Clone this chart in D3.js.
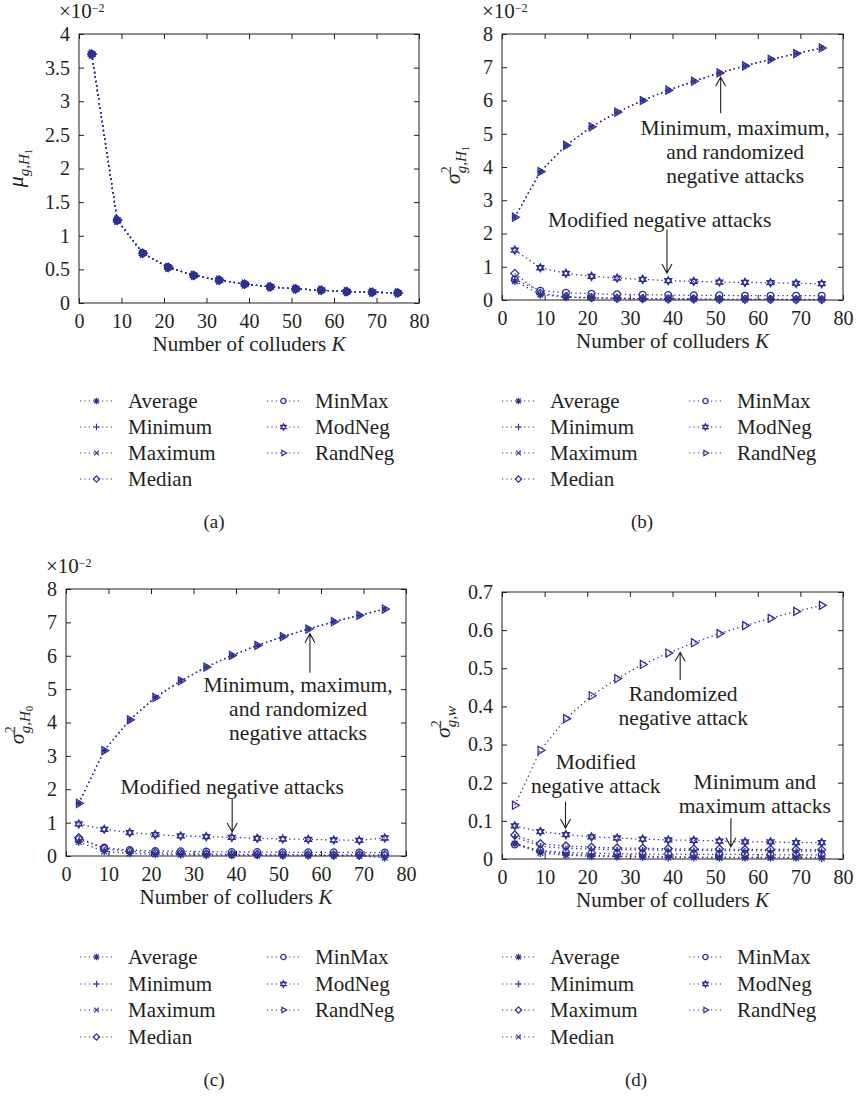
<!DOCTYPE html>
<html>
<head>
<meta charset="utf-8">
<script src="https://cdn.jsdelivr.net/npm/d3@7"></script>
<style>
  body { margin: 0; background: #fff; }
  svg { display: block; }
  text { font-family: "Liberation Serif", "Times New Roman", serif; fill: #231f20; }
</style>
</head>
<body>
<svg id="fig" width="856" height="1098"></svg>
<script>
// Number of colluders K
const K = [3, 9, 15, 21, 27, 33, 39, 45, 51, 57, 63, 69, 75];
const xTicks = [0, 10, 20, 30, 40, 50, 60, 70, 80];

// (a) mean of g under H1, in units of 1e-2 (all attacks coincide)
const aAverage = [3.70, 1.23, 0.74, 0.53, 0.41, 0.34, 0.28, 0.24, 0.21, 0.19, 0.17, 0.16, 0.15];
const aMinimum = [3.70, 1.23, 0.74, 0.53, 0.41, 0.34, 0.28, 0.24, 0.21, 0.19, 0.17, 0.16, 0.15];
const aMaximum = [3.70, 1.23, 0.74, 0.53, 0.41, 0.34, 0.28, 0.24, 0.21, 0.19, 0.17, 0.16, 0.15];
const aMedian  = [3.70, 1.23, 0.74, 0.53, 0.41, 0.34, 0.28, 0.24, 0.21, 0.19, 0.17, 0.16, 0.15];
const aMinMax  = [3.70, 1.23, 0.74, 0.53, 0.41, 0.34, 0.28, 0.24, 0.21, 0.19, 0.17, 0.16, 0.15];
const aModNeg  = [3.70, 1.23, 0.74, 0.53, 0.41, 0.34, 0.28, 0.24, 0.21, 0.19, 0.17, 0.16, 0.15];
const aRandNeg = [3.70, 1.23, 0.74, 0.53, 0.41, 0.34, 0.28, 0.24, 0.21, 0.19, 0.17, 0.16, 0.15];
const aYTicks = [0, 0.5, 1, 1.5, 2, 2.5, 3, 3.5, 4];
const aYTickLabels = ["0", "0.5", "1", "1.5", "2", "2.5", "3", "3.5", "4"];

// (b) variance of g under H1, in units of 1e-2
const bAverage = [0.57, 0.16, 0.09, 0.06, 0.05, 0.04, 0.03, 0.03, 0.02, 0.02, 0.02, 0.02, 0.02];
const bMinimum = [2.49, 3.86, 4.65, 5.21, 5.65, 6.00, 6.31, 6.58, 6.83, 7.04, 7.24, 7.41, 7.58];
const bMaximum = [2.49, 3.86, 4.65, 5.21, 5.65, 6.00, 6.31, 6.58, 6.83, 7.04, 7.24, 7.41, 7.58];
const bMedian  = [0.80, 0.20, 0.10, 0.07, 0.05, 0.04, 0.03, 0.03, 0.02, 0.02, 0.02, 0.01, 0.01];
const bMinMax  = [0.62, 0.28, 0.22, 0.19, 0.17, 0.16, 0.15, 0.14, 0.14, 0.13, 0.13, 0.13, 0.13];
const bModNeg  = [1.50, 0.97, 0.80, 0.71, 0.66, 0.62, 0.58, 0.56, 0.54, 0.53, 0.52, 0.50, 0.49];
const bRandNeg = [2.49, 3.86, 4.65, 5.21, 5.65, 6.00, 6.31, 6.58, 6.83, 7.04, 7.24, 7.41, 7.58];
const bYTicks = [0, 1, 2, 3, 4, 5, 6, 7, 8];
const bYTickLabels = ["0", "1", "2", "3", "4", "5", "6", "7", "8"];

// (c) variance of g under H0, in units of 1e-2
const cAverage = [0.42, 0.14, 0.08, 0.05, 0.04, 0.03, 0.02, 0.02, 0.01, 0.01, 0.01, 0.00, -0.05];
const cMinimum = [1.58, 3.16, 4.08, 4.75, 5.25, 5.66, 6.01, 6.31, 6.57, 6.80, 7.02, 7.21, 7.40];
const cMaximum = [1.58, 3.16, 4.08, 4.75, 5.25, 5.66, 6.01, 6.31, 6.57, 6.80, 7.02, 7.21, 7.40];
const cMedian  = [0.55, 0.22, 0.14, 0.10, 0.08, 0.06, 0.05, 0.05, 0.04, 0.04, 0.03, 0.03, 0.03];
const cMinMax  = [0.50, 0.25, 0.18, 0.15, 0.14, 0.13, 0.12, 0.12, 0.11, 0.11, 0.11, 0.10, 0.10];
const cModNeg  = [0.96, 0.80, 0.70, 0.64, 0.60, 0.58, 0.56, 0.53, 0.51, 0.50, 0.48, 0.47, 0.54];
const cRandNeg = [1.58, 3.16, 4.08, 4.75, 5.25, 5.66, 6.01, 6.31, 6.57, 6.80, 7.02, 7.21, 7.40];
const cYTicks = [0, 1, 2, 3, 4, 5, 6, 7, 8];
const cYTickLabels = ["0", "1", "2", "3", "4", "5", "6", "7", "8"];

// (d) variance of the watermark-related term w
const dAverage = [0.040, 0.016, 0.010, 0.007, 0.006, 0.005, 0.004, 0.004, 0.003, 0.003, 0.003, 0.003, 0.002];
const dMinimum = [0.058, 0.033, 0.028, 0.026, 0.025, 0.024, 0.023, 0.023, 0.022, 0.022, 0.022, 0.021, 0.021];
const dMaximum = [0.063, 0.040, 0.034, 0.031, 0.029, 0.028, 0.027, 0.026, 0.026, 0.025, 0.025, 0.025, 0.024];
const dMedian  = [0.042, 0.020, 0.013, 0.010, 0.008, 0.007, 0.006, 0.005, 0.005, 0.004, 0.004, 0.004, 0.004];
const dMinMax  = [0.038, 0.022, 0.017, 0.015, 0.014, 0.013, 0.013, 0.012, 0.012, 0.012, 0.011, 0.011, 0.011];
const dModNeg  = [0.087, 0.072, 0.064, 0.058, 0.055, 0.052, 0.050, 0.049, 0.047, 0.045, 0.045, 0.043, 0.043];
const dRandNeg = [0.141, 0.285, 0.368, 0.428, 0.473, 0.510, 0.540, 0.567, 0.591, 0.612, 0.631, 0.649, 0.665];
const dYTicks = [0, 0.1, 0.2, 0.3, 0.4, 0.5, 0.6, 0.7];
const dYTickLabels = ["0", "0.1", "0.2", "0.3", "0.4", "0.5", "0.6", "0.7"];

const seriesNames = ["Average", "Minimum", "Maximum", "Median", "MinMax", "ModNeg", "RandNeg"];
const markersABC = ["asterisk", "plus", "cross", "diamond", "circle", "hexagram", "triangle"];
const markersD   = ["asterisk", "plus", "diamond", "cross", "circle", "hexagram", "triangle"];

const BLUE = "#2e3192";
const INK = "#231f20";
const svg = d3.select("#fig");

function markerPath(type, r) {
  const s = r * 0.72, h = r * 0.866;
  switch (type) {
    case "asterisk": return `M${-r},0H${r}M0,${-r}V${r}M${-s},${-s}L${s},${s}M${-s},${s}L${s},${-s}`;
    case "plus": return `M${-r},0H${r}M0,${-r}V${r}`;
    case "cross": return `M${-s},${-s}L${s},${s}M${-s},${s}L${s},${-s}`;
    case "diamond": return `M0,${-r}L${r},0L0,${r}L${-r},0Z`;
    case "circle": { const c = r * 0.85; return `M${c},0A${c},${c} 0 1,1 ${-c},0A${c},${c} 0 1,1 ${c},0Z`; }
    case "hexagram": return `M0,${-r}L${h},${r / 2}L${-h},${r / 2}ZM0,${r}L${h},${-r / 2}L${-h},${-r / 2}Z`;
    case "triangle": return `M${r},0L${-r / 2},${-h}L${-r / 2},${h}Z`;
  }
}

// marker radius used inside the plot area
function plotRadius(type) {
  if (type === "triangle") return 4.6;
  if (type === "plus" || type === "cross") return 2.8;
  return 4;
}

function yLabel(g, cx, cy, sym, sub, subsub, squared) {
  const t = g.append("text")
    .attr("transform", `translate(${cx},${cy}) rotate(-90)`)
    .attr("text-anchor", "middle")
    .style("font-size", "22px");
  t.append("tspan").attr("font-style", "italic").text(sym);
  if (squared) {
    t.append("tspan").attr("font-size", 14).attr("dy", -9).text("2");
    t.append("tspan").attr("font-size", 15).attr("font-style", "italic").attr("dx", -7).attr("dy", 15).text(sub);
  } else {
    t.append("tspan").attr("font-size", 15).attr("font-style", "italic").attr("dy", 6).text(sub);
  }
  if (subsub) t.append("tspan").attr("font-size", 11).attr("dy", 3).text(subsub);
}

function drawPanel(p) {
  const [x0, y0, x1, y1] = p.box;
  const x = d3.scaleLinear().domain([0, 80]).range([x0, x1]);
  const y = d3.scaleLinear().domain([0, p.yMax]).range([y1, y0]);
  const g = svg.append("g");
  const tl = 5;

  const styleAxis = sel => {
    sel.select(".domain").remove();
    sel.selectAll(".tick line").attr("stroke", INK).attr("stroke-width", 1);
    sel.selectAll("text").attr("fill", INK).style("font-size", "20px")
      .style("font-family", '"Liberation Serif", "Times New Roman", serif');
  };

  g.append("g").attr("transform", `translate(${x0},0)`)
    .call(d3.axisLeft(y).tickValues(p.yTicks).tickFormat((d, i) => p.yTickLabels[i])
      .tickSizeInner(-tl).tickSizeOuter(0).tickPadding(9)).call(styleAxis);
  g.append("g").attr("transform", `translate(${x1},0)`)
    .call(d3.axisRight(y).tickValues(p.yTicks).tickFormat("").tickSizeInner(-tl).tickSizeOuter(0)).call(styleAxis);
  g.append("g").attr("transform", `translate(0,${y1})`)
    .call(d3.axisBottom(x).tickValues(xTicks).tickFormat(d3.format("d"))
      .tickSizeInner(-tl).tickSizeOuter(0).tickPadding(11)).call(styleAxis);
  g.append("g").attr("transform", `translate(0,${y0})`)
    .call(d3.axisTop(x).tickValues(xTicks).tickFormat("").tickSizeInner(-tl).tickSizeOuter(0)).call(styleAxis);

  g.append("rect").attr("x", x0).attr("y", y0).attr("width", x1 - x0).attr("height", y1 - y0)
    .attr("fill", "none").attr("stroke", INK).attr("stroke-width", 1);

  // series: dotted lines then markers
  const line = d3.line().x((d, i) => x(K[i])).y(d => y(d));
  p.series.forEach(vals => {
    g.append("path").attr("d", line(vals)).attr("fill", "none").attr("stroke", BLUE)
      .attr("stroke-width", 1.3).attr("stroke-dasharray", "1.3,3.2");
  });
  p.series.forEach((vals, si) => {
    const m = p.markers[si];
    g.append("g").selectAll("path").data(vals).join("path")
      .attr("transform", (d, i) => `translate(${x(K[i])},${y(d)})`)
      .attr("d", markerPath(m, plotRadius(m)))
      .attr("fill", "none").attr("stroke", BLUE).attr("stroke-width", 1.3);
  });

  // x axis title
  const xt = g.append("text").attr("x", (x0 + x1) / 2).attr("y", y1 + 48)
    .attr("text-anchor", "middle").style("font-size", "21px");
  xt.append("tspan").text("Number of colluders ");
  xt.append("tspan").attr("font-style", "italic").text("K");

  // y axis title
  yLabel(g, p.yl[0], p.yl[1], p.sym, p.sub, p.subsub, p.squared);

  // exponent
  if (p.exponent) {
    const e = g.append("text").attr("x", x0 - 20).attr("y", y0 - 16).style("font-size", "21px");
    e.append("tspan").text("\u00d710");
    e.append("tspan").attr("font-size", 12).attr("dy", -6).text("\u22122");
  }

  // annotations (anchored in data coordinates)
  p.notes.forEach(n => {
    const t = g.append("text").attr("text-anchor", "middle").style("font-size", "21.5px");
    n.lines.forEach((s, i) => {
      t.append("tspan").attr("x", x(n.k)).attr("y", y(n.v) + 7 + i * 24).text(s);
    });
  });
  p.arrows.forEach(a => {
    const ax = x(a.k), ya = y(a.from), yb = y(a.to);
    const dir = yb < ya ? 1 : -1;
    g.append("path")
      .attr("d", `M${ax},${ya}L${ax},${yb}M${ax - 5},${yb + dir * 9}L${ax},${yb}L${ax + 5},${yb + dir * 9}`)
      .attr("fill", "none").attr("stroke", INK).attr("stroke-width", 1.1);
  });

  // legend
  const lg = g.append("g");
  seriesNames.forEach((name, i) => {
    const col = i < 4 ? 0 : 1, row = i < 4 ? i : i - 4;
    const lx = p.legend.cols[col], ly = p.legend.rows[row];
    lg.append("line").attr("x1", lx).attr("x2", lx + 33).attr("y1", ly).attr("y2", ly)
      .attr("stroke", BLUE).attr("stroke-width", 1.2).attr("stroke-dasharray", "1.2,3.2");
    lg.append("path").attr("transform", `translate(${lx + 16.5},${ly})`)
      .attr("d", markerPath(p.markers[i], 3.2)).attr("fill", "none").attr("stroke", BLUE).attr("stroke-width", 1.2);
    lg.append("text").attr("x", lx + 48).attr("y", ly + 7).style("font-size", "21px").text(name);
  });

  svg.append("text").attr("x", p.tag[0]).attr("y", p.tag[1]).attr("text-anchor", "middle")
    .style("font-size", "19px").text(p.tagText);
}

const panels = [
  {
    box: [79, 34, 419, 303], yMax: 4, yTicks: aYTicks, yTickLabels: aYTickLabels,
    series: [aAverage, aMinimum, aMaximum, aMedian, aMinMax, aModNeg, aRandNeg], markers: markersABC,
    sym: "\u03bc", sub: "g,H", subsub: "1", squared: false, yl: [23, 168], exponent: true,
    notes: [], arrows: [],
    legend: { cols: [80, 267], rows: [401, 427, 453, 479] }, tag: [214, 528], tagText: "(a)"
  },
  {
    box: [502, 34, 843, 300], yMax: 8, yTicks: bYTicks, yTickLabels: bYTickLabels,
    series: [bAverage, bMinimum, bMaximum, bMedian, bMinMax, bModNeg, bRandNeg], markers: markersABC,
    sym: "\u03c3", sub: "g,H", subsub: "1", squared: true, yl: [460, 165], exponent: true,
    notes: [
      { lines: ["Minimum, maximum,", "and randomized", "negative attacks"], k: 54.7, v: 5.18 },
      { lines: ["Modified negative attacks"], k: 37.0, v: 2.40 }
    ],
    arrows: [{ k: 51.3, from: 5.62, to: 6.70 }, { k: 38.7, from: 2.12, to: 0.81 }],
    legend: { cols: [502, 689], rows: [401, 427, 453, 479] }, tag: [642, 528], tagText: "(b)"
  },
  {
    box: [66, 589, 406, 856], yMax: 8, yTicks: cYTicks, yTickLabels: cYTickLabels,
    series: [cAverage, cMinimum, cMaximum, cMedian, cMinMax, cModNeg, cRandNeg], markers: markersABC,
    sym: "\u03c3", sub: "g,H", subsub: "0", squared: true, yl: [24, 725], exponent: true,
    notes: [
      { lines: ["Minimum, maximum,", "and randomized", "negative attacks"], k: 54.6, v: 5.11 },
      { lines: ["Modified negative attacks"], k: 39.1, v: 2.07 }
    ],
    arrows: [{ k: 57.4, from: 5.49, to: 6.66 }, { k: 39.1, from: 1.71, to: 0.72 }],
    legend: { cols: [80, 267], rows: [957, 984, 1010, 1037] }, tag: [214, 1086], tagText: "(c)"
  },
  {
    box: [502, 592, 843, 859], yMax: 0.7, yTicks: dYTicks, yTickLabels: dYTickLabels,
    series: [dAverage, dMinimum, dMaximum, dMedian, dMinMax, dModNeg, dRandNeg], markers: markersD,
    sym: "\u03c3", sub: "g,w", subsub: null, squared: true, yl: [450, 722], exponent: false,
    notes: [
      { lines: ["Randomized", "negative attack"], k: 42.5, v: 0.432 },
      { lines: ["Modified", "negative attack"], k: 22.0, v: 0.255 },
      { lines: ["Minimum and", "maximum attacks"], k: 59.3, v: 0.2016 }
    ],
    arrows: [{ k: 41.8, from: 0.469, to: 0.542 }, { k: 14.9, from: 0.150, to: 0.081 }, { k: 53.7, from: 0.107, to: 0.032 }],
    legend: { cols: [502, 689], rows: [957, 984, 1010, 1037] }, tag: [636, 1086], tagText: "(d)"
  }
];

panels.forEach(drawPanel);
</script>
</body>
</html>
